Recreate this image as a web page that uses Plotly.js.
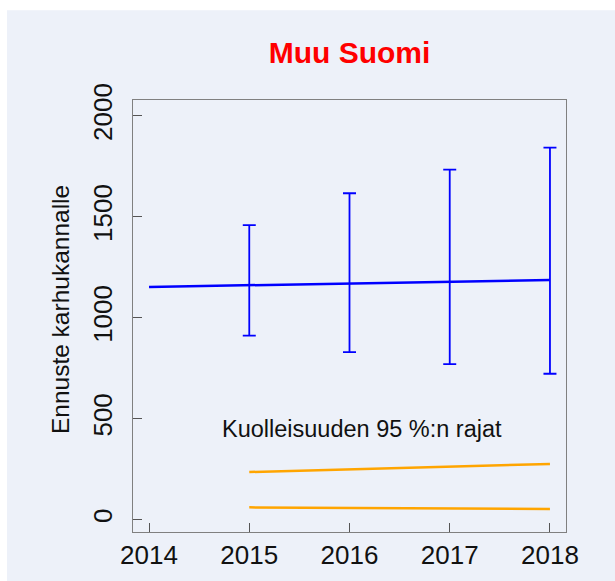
<!DOCTYPE html>
<html>
<head>
<meta charset="utf-8">
<script src="https://cdn.plot.ly/plotly-3.0.1.min.js"></script>
<style>html,body{margin:0;padding:0;background:#fff;}</style>
</head>
<body>
<div id="chart" style="width:615px;height:581px;"></div>
<script>
// Data
const years = [2014, 2015, 2016, 2017, 2018];
const forecast = [1153, 1162, 1172, 1178, 1187];
const ciYears = [2015, 2016, 2017, 2018];
const ciMid = [1162, 1172, 1178, 1187];
const ciUpper = [1459, 1617, 1734, 1843];
const ciLower = [912, 830, 771, 723];
const mortUpper = [236, 250, 263, 276];
const mortLower = [61, 58, 56, 53];
const xTicks = [2014, 2015, 2016, 2017, 2018];
const yTicks = [0, 500, 1000, 1500, 2000];
const titleText = 'Muu Suomi';
const yTitle = 'Ennuste karhukannalle';
const noteText = 'Kuolleisuuden 95 %:n rajat';

const FONT = 'Liberation Sans, Arial, sans-serif';
const panel = '#edf1f9';

const traces = [
  {x: years, y: forecast, mode: 'lines', line: {color: '#0000ff', width: 2.5}, hoverinfo: 'skip'},
  {x: ciYears, y: ciMid, mode: 'markers', marker: {size: 1, opacity: 0},
   error_y: {type: 'data', symmetric: false,
     array: ciUpper.map((u, i) => u - ciMid[i]),
     arrayminus: ciLower.map((l, i) => ciMid[i] - l),
     color: '#0000ff', thickness: 1.8, width: 6.5}, hoverinfo: 'skip'},
  {x: ciYears, y: mortUpper, mode: 'lines', line: {color: '#ffa500', width: 2.5}, hoverinfo: 'skip'},
  {x: ciYears, y: mortLower, mode: 'lines', line: {color: '#ffa500', width: 2.5}, hoverinfo: 'skip'}
];

const layout = {
  width: 615, height: 581,
  margin: {l: 133, r: 49, t: 100, b: 49},
  paper_bgcolor: '#ffffff',
  plot_bgcolor: panel,
  showlegend: false,
  font: {family: FONT, color: '#111111'},
  title: {text: '<b>' + titleText + '</b>', font: {family: FONT, size: 30, color: '#ff0000'},
          x: 0.5, xref: 'paper', xanchor: 'center', y: 0.91, yref: 'container', yanchor: 'middle'},
  xaxis: {range: [2013.84, 2018.16], tickvals: xTicks, ticktext: xTicks.map(String),
          ticks: 'inside', ticklen: 9, tickcolor: '#555555', tickwidth: 1,
          showgrid: false, zeroline: false, showline: true, mirror: true,
          linecolor: '#808080', linewidth: 1,
          tickfont: {family: FONT, size: 26, color: '#111111'}},
  yaxis: {range: [-61, 2079], tickvals: yTicks, ticktext: yTicks.map(String),
          ticks: 'inside', ticklen: 9, tickcolor: '#555555', tickwidth: 1, tickangle: -90,
          ticklabelstandoff: 10,
          showgrid: false, zeroline: false, showline: true, mirror: true,
          linecolor: '#808080', linewidth: 1,
          tickfont: {family: FONT, size: 26, color: '#111111'}},
  shapes: [{type: 'rect', xref: 'paper', yref: 'paper', x0: -0.291, x1: 1.2, y0: -0.2, y1: 1.208,
            fillcolor: panel, line: {width: 0}, layer: 'below'}],
  annotations: [
    {text: noteText, x: 2016.12, y: 450, xref: 'x', yref: 'y', showarrow: false,
     xanchor: 'center', yanchor: 'middle',
     font: {family: FONT, size: 23.5, color: '#111111'}},
    {text: yTitle, x: -0.1686, y: 0.516, xref: 'paper', yref: 'paper', showarrow: false,
     textangle: -90, xanchor: 'center', yanchor: 'middle',
     font: {family: FONT, size: 24.5, color: '#111111'}}
  ]
};

Plotly.newPlot('chart', traces, layout, {displayModeBar: false, staticPlot: true});
</script>
</body>
</html>
